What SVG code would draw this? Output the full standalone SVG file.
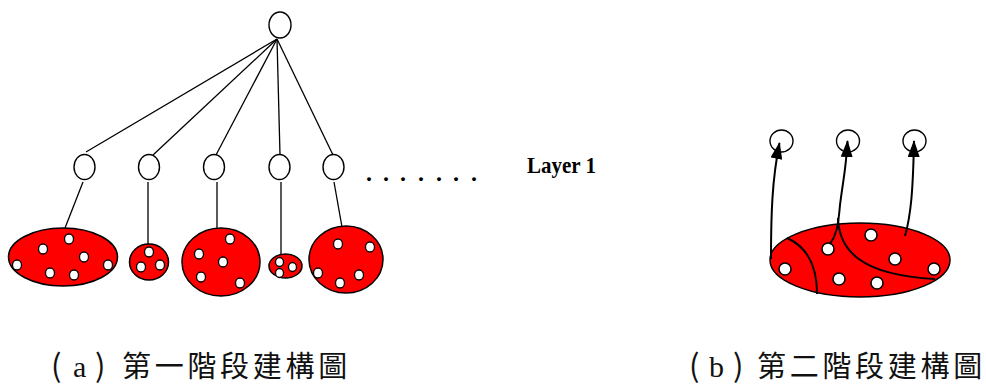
<svg xmlns="http://www.w3.org/2000/svg" width="986" height="385" viewBox="0 0 986 385">
<style>
.node{fill:#fff;stroke:#000;stroke-width:1.4}
.blob{fill:#f00;stroke:#000;stroke-width:1.5}
.dot{fill:#fff;stroke:#000;stroke-width:1.3}
.dot2{fill:#fff;stroke:#000;stroke-width:1.5}
.edge{fill:none;stroke:#000;stroke-width:1.3}
.curve{fill:none;stroke:#000;stroke-width:2}
.cjk{font-family:"Noto Sans CJK TC","Noto Sans CJK SC",sans-serif;font-size:29px;fill:#111}
.par{font-family:"Noto Sans CJK TC","Noto Sans CJK SC",sans-serif;font-size:31px;fill:#111}
.lat{font-family:"Liberation Serif",serif;font-size:30px;fill:#111}
</style>
<defs>
<marker id="ah" markerUnits="userSpaceOnUse" markerWidth="17" markerHeight="12" refX="16" refY="6" orient="auto" viewBox="0 0 17 12">
<path d="M0,0 L17,6 L0,12 Z" fill="#000"/>
</marker>
</defs>
<g id="connectors">
<path class="edge" d="M277,39 L86,152"/>
<path class="edge" d="M277,39 L153,155"/>
<path class="edge" d="M277,39 L216,155"/>
<path class="edge" d="M277,39 L280,155"/>
<path class="edge" d="M277,39 L333,155"/>
<path class="edge" d="M83,182 L65,228"/>
<path class="edge" d="M148,182 L148,244"/>
<path class="edge" d="M217,182 L217,229"/>
<path class="edge" d="M281,182 L281,255"/>
<path class="edge" d="M334,182 L342,227"/>
</g>
<g id="root"><ellipse class="node" cx="280" cy="25" rx="11" ry="13"/></g>
<g id="c1"><ellipse class="node" cx="84.5" cy="167" rx="10.5" ry="12.5"/></g>
<g id="c2"><ellipse class="node" cx="149" cy="167" rx="10.5" ry="12.5"/></g>
<g id="c3"><ellipse class="node" cx="214" cy="167" rx="10.5" ry="12.5"/></g>
<g id="c4"><ellipse class="node" cx="279.5" cy="167" rx="10.5" ry="12.5"/></g>
<g id="c5"><ellipse class="node" cx="333.5" cy="167" rx="10.5" ry="12.5"/></g>
<g id="b1">
<ellipse class="blob" cx="63" cy="257" rx="54.5" ry="29"/>
<ellipse class="dot" cx="69" cy="239" rx="4.5" ry="5"/>
<ellipse class="dot" cx="43" cy="249" rx="4.5" ry="5"/>
<ellipse class="dot" cx="84" cy="257" rx="4.5" ry="5"/>
<ellipse class="dot" cx="17" cy="265" rx="4.5" ry="5"/>
<ellipse class="dot" cx="108" cy="265" rx="4.5" ry="5"/>
<ellipse class="dot" cx="50" cy="273" rx="4.5" ry="5"/>
<ellipse class="dot" cx="74" cy="275" rx="4.5" ry="5"/>
</g>
<g id="b2">
<ellipse class="blob" cx="149" cy="262" rx="19.5" ry="18"/>
<ellipse class="dot" cx="149" cy="252" rx="4.5" ry="5"/>
<ellipse class="dot" cx="141" cy="267" rx="4.5" ry="5"/>
<ellipse class="dot" cx="160" cy="265" rx="4.5" ry="5"/>
</g>
<g id="b3">
<ellipse class="blob" cx="221" cy="262" rx="39" ry="34"/>
<ellipse class="dot" cx="230" cy="239" rx="4.5" ry="5"/>
<ellipse class="dot" cx="199" cy="254" rx="4.5" ry="5"/>
<ellipse class="dot" cx="223" cy="262" rx="4.5" ry="5"/>
<ellipse class="dot" cx="201" cy="277" rx="4.5" ry="5"/>
<ellipse class="dot" cx="240" cy="283" rx="4.5" ry="5"/>
</g>
<g id="b4">
<ellipse class="blob" cx="285.5" cy="266" rx="16.5" ry="12"/>
<ellipse class="dot" cx="279.5" cy="262" rx="4" ry="4.5"/>
<ellipse class="dot" cx="279.5" cy="273" rx="4" ry="4.5"/>
<ellipse class="dot" cx="292.5" cy="267" rx="4" ry="4.5"/>
</g>
<g id="b5">
<ellipse class="blob" cx="346" cy="259.5" rx="37" ry="33.5"/>
<ellipse class="dot" cx="338" cy="244" rx="4.5" ry="5"/>
<ellipse class="dot" cx="370" cy="247" rx="4.5" ry="5"/>
<ellipse class="dot" cx="318" cy="273" rx="4.5" ry="5"/>
<ellipse class="dot" cx="340" cy="283" rx="4.5" ry="5"/>
<ellipse class="dot" cx="359" cy="275" rx="4.5" ry="5"/>
</g>
<text font-family="Liberation Serif,serif" font-weight="bold" font-size="24" x="366 383 400 418 436 453 471" y="181">.......</text>
<text font-family="Liberation Serif,serif" font-weight="bold" font-size="23" x="527" y="173" textLength="69" lengthAdjust="spacingAndGlyphs">Layer 1</text>
<g id="r1"><ellipse class="node" cx="781.5" cy="141" rx="11.5" ry="11"/></g>
<g id="r2"><ellipse class="node" cx="848" cy="141" rx="11.5" ry="11"/></g>
<g id="r3"><ellipse class="node" cx="914.5" cy="141" rx="11.5" ry="11"/></g>
<g id="big">
<ellipse class="blob" cx="860" cy="260" rx="90" ry="37"/>
<ellipse class="dot2" cx="785" cy="269" rx="6" ry="6"/>
<ellipse class="dot2" cx="828" cy="249" rx="6" ry="6"/>
<ellipse class="dot2" cx="871" cy="235" rx="6" ry="6"/>
<ellipse class="dot2" cx="895" cy="259" rx="6" ry="6"/>
<ellipse class="dot2" cx="934" cy="269" rx="6" ry="6"/>
<ellipse class="dot2" cx="839" cy="279" rx="6" ry="6"/>
<ellipse class="dot2" cx="877" cy="283" rx="6" ry="6"/>
</g>
<g id="connectors-b">
<path class="curve" d="M771,259 C771,215 772,180 779.5,143" marker-end="url(#ah)"/>
<path class="curve" d="M830,244 C836,236 838,228 840,205 C843,180 846,170 847.5,141" marker-end="url(#ah)"/>
<path class="curve" d="M905,236 C911,215 913,190 914,141" marker-end="url(#ah)"/>
<path class="curve" d="M838,218 C839,250 860,275 935,279"/>
<path class="curve" d="M787,238 C805,246 817,262 817,294"/>
</g>
<g id="label-a">
<text class="par" x="51" y="377">(</text>
<text class="lat" x="73" y="377">a</text>
<text class="par" x="95" y="377">)</text>
<text class="cjk" x="122" y="377" letter-spacing="3.7">第一階段建構圖</text>
</g>
<g id="label-b">
<text class="par" x="689" y="377">(</text>
<text class="lat" x="709" y="377">b</text>
<text class="par" x="733" y="377">)</text>
<text class="cjk" x="757" y="377" letter-spacing="3.7">第二階段建構圖</text>
</g>
</svg>
